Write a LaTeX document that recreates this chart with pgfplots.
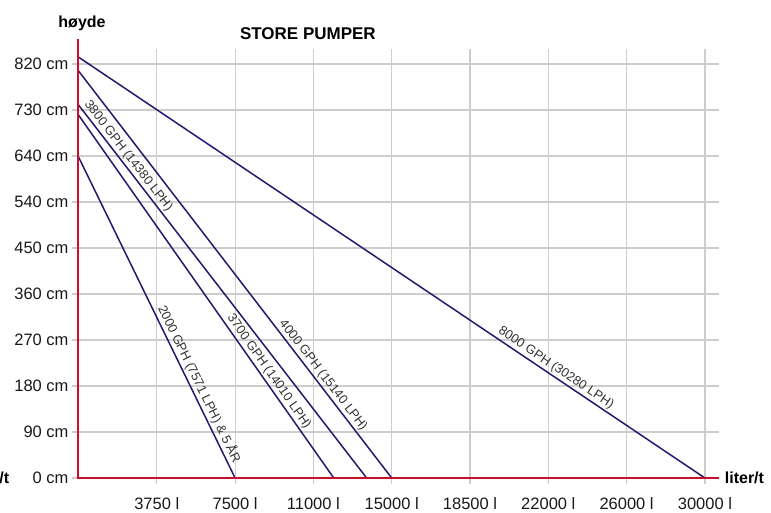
\documentclass[border=0pt]{standalone}
\usepackage{fontspec}
\setmainfont{Liberation Sans}
\usepackage{pgfplots}
\pgfplotsset{compat=1.18}
\definecolor{navy}{RGB}{35,25,110}
\definecolor{axred}{RGB}{205,15,45}
\definecolor{gridgray}{RGB}{205,205,205}
\definecolor{labgray}{RGB}{50,50,50}
\tikzset{lbl/.style={sloped, above, inner sep=1.5pt, font=\fontsize{12.8}{14}\selectfont, text=labgray}}
\begin{document}
\begin{tikzpicture}
\path[use as bounding box] (-78.5pt,-35pt) rectangle (692.5pt,478pt);
\begin{axis}[
  scale only axis, width=640.5pt, height=429pt,
  xmin=0, xmax=8.18, ymin=0, ymax=9.326,
  clip=false,
  axis line style={draw=none},
  tick pos=left,
  tick align=outside,
  major tick length=6.5pt,
  tick style={gridgray, line width=1.2pt},
  grid=major,
  grid style={gridgray, line width=1.2pt},
  xtick={1,2,3,4,5,6,7,8},
  xticklabels={3750 l, 7500 l, 11000 l, 15000 l, 18500 l, 22000 l, 26000 l, 30000 l},
  ytick={0,1,2,3,4,5,6,7,8,9},
  yticklabels={0 cm, 90 cm, 180 cm, 270 cm, 360 cm, 450 cm, 540 cm, 640 cm, 730 cm, 820 cm},
  ticklabel style={font=\fontsize{16.5}{19}\selectfont, text=black!90},
  xticklabel style={yshift=-10pt},
]
\addplot[navy, line width=1.5pt] coordinates {(0,9.15) (8,0)}
  node[pos=0.755, lbl] {8000 GPH (30280 LPH)};
\addplot[navy, line width=1.5pt] coordinates {(0,8.85) (4,0)}
  node[pos=0.76, lbl] {4000 GPH (15140 LPH)};
\addplot[navy, line width=1.5pt] coordinates {(0,8.11) (3.68,0)}
  node[pos=0.15, lbl] {3800 GPH (14380 LPH)};
\addplot[navy, line width=1.5pt] coordinates {(0,7.89) (3.26,0)}
  node[pos=0.72, lbl] {3700 GPH (14010 LPH)};
\addplot[navy, line width=1.5pt] coordinates {(0,6.98) (2,0)}
  node[pos=0.72, lbl] {2000 GPH (7571 LPH) \& 5 ÅR};
\draw[axred, line width=2pt] (axis cs:0,9.54) -- (axis cs:0,0) -- (axis cs:8.18,0);
\node[anchor=west, font=\fontsize{16}{19}\selectfont\bfseries] at (axis cs:8.21,0) {liter/t};
\node[anchor=east, overlay, font=\fontsize{16}{19}\selectfont\bfseries] at (axis cs:-0.84,0) {liter/t};
\node[anchor=base, font=\fontsize{16}{19}\selectfont\bfseries] at (axis cs:0.045,9.80) {høyde};
\node[anchor=base, font=\fontsize{17}{20}\selectfont\bfseries] at (axis cs:2.93,9.54) {STORE PUMPER};
\end{axis}
\end{tikzpicture}
\end{document}
